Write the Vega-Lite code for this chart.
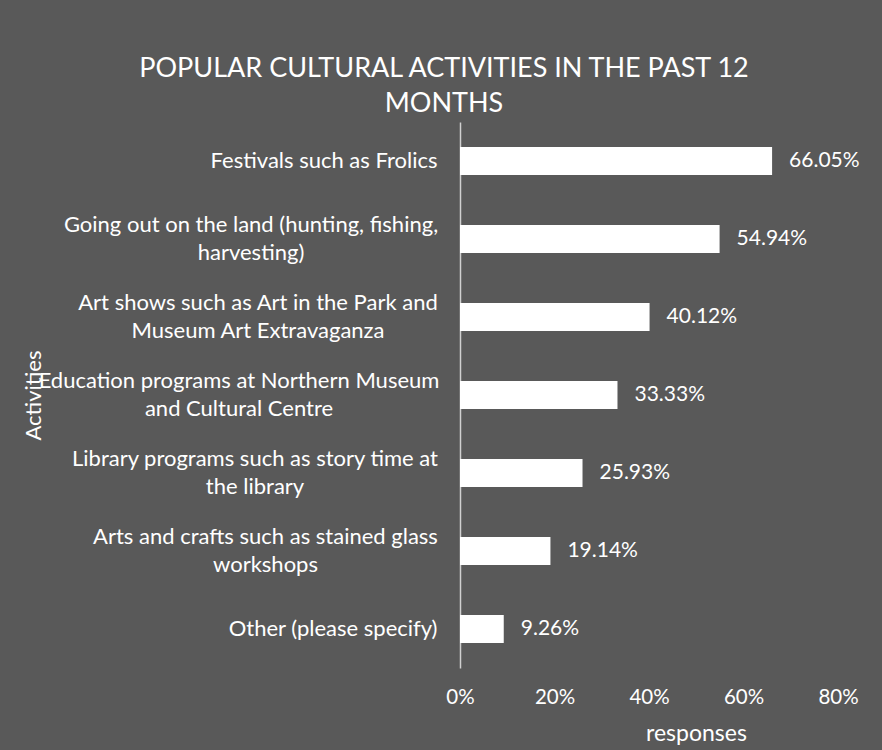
{
  "$schema": "https://vega.github.io/schema/vega-lite/v6.json",
  "width": 378,
  "height": 546,
  "autosize": {"type": "none"},
  "padding": {"left": 460, "top": 122, "right": 44, "bottom": 82},
  "background": "#595959",
  "title": {
    "text": ["POPULAR CULTURAL ACTIVITIES IN THE PAST 12", "MONTHS"],
    "font": "Lato",
    "fontSize": 27,
    "fontWeight": "normal",
    "color": "#ffffff",
    "anchor": "middle",
    "frame": "group",
    "dx": -205,
    "lineHeight": 35,
    "offset": 4
  },
  "data": {
    "values": [
      {"activity": "Festivals such as Frolics", "share": 0.6605},
      {"activity": "Going out on the land (hunting, fishing,|harvesting)", "share": 0.5494},
      {"activity": "Art shows such as Art in the Park and|Museum Art Extravaganza", "share": 0.4012},
      {"activity": "Education programs at Northern Museum|and Cultural Centre", "share": 0.3333},
      {"activity": "Library programs such as story time at|the library", "share": 0.2593},
      {"activity": "Arts and crafts such as stained glass|workshops", "share": 0.1914},
      {"activity": "Other (please specify)", "share": 0.0926}
    ]
  },
  "encoding": {
    "y": {
      "field": "activity",
      "type": "nominal",
      "sort": null,
      "scale": {"paddingInner": 0.64, "paddingOuter": 0.32},
      "axis": {
        "title": "Activities",
        "titleFont": "Lato",
        "titleFontSize": 22,
        "titleFontWeight": "normal",
        "titleColor": "#ffffff",
        "titleX": -427,
        "titleY": 273,
        "titleAlign": "center",
        "titleBaseline": "middle",
        "titleAngle": -90,
        "labelExpr": "split(datum.label, '|')",
        "labelFont": "Lato",
        "labelFontSize": 22,
        "labelColor": "#ffffff",
        "labelLineHeight": 28,
        "labelLimit": 0,
        "labelAlign": {"condition": {"test": "indexof(datum.value, '|') >= 0", "value": "center"}, "value": "right"},
        "labelPadding": {"expr": "indexof(datum.value, 'Going out') == 0 ? 209.5 : indexof(datum.value, 'Art shows') == 0 ? 202.5 : indexof(datum.value, 'Education') == 0 ? 221.5 : indexof(datum.value, 'Library') == 0 ? 205.5 : indexof(datum.value, 'Arts and crafts') == 0 ? 195 : 23"},
        "labelOffset": {"condition": {"test": "indexof(datum.value, '|') >= 0", "value": -14}, "value": 0},
        "ticks": false,
        "domain": true,
        "domainColor": "#d0d0d0",
        "domainWidth": 1.5,
        "grid": false
      }
    },
    "x": {
      "field": "share",
      "type": "quantitative",
      "scale": {"domain": [0, 0.8], "nice": false},
      "axis": {
        "title": "responses",
        "titleFont": "Lato",
        "titleFontSize": 23,
        "titleFontWeight": "normal",
        "titleColor": "#ffffff",
        "titleX": 236,
        "titleY": 65,
        "titleAlign": "center",
        "titleBaseline": "middle",
        "format": ".0%",
        "values": [0, 0.2, 0.4, 0.6, 0.8],
        "labelFont": "Lato",
        "labelFontSize": 20.5,
        "labelColor": "#ffffff",
        "labelPadding": 19,
        "labelBaseline": "top",
        "labelFlush": false,
        "ticks": false,
        "domain": false,
        "grid": false
      }
    }
  },
  "layer": [
    {"mark": {"type": "bar", "color": "#ffffff"}},
    {
      "mark": {"type": "text", "align": "left", "baseline": "middle", "dx": 17, "font": "Lato", "fontSize": 21, "color": "#ffffff"},
      "encoding": {"text": {"field": "share", "type": "quantitative", "format": ".2%"}}
    }
  ],
  "config": {"view": {"stroke": null}}
}
